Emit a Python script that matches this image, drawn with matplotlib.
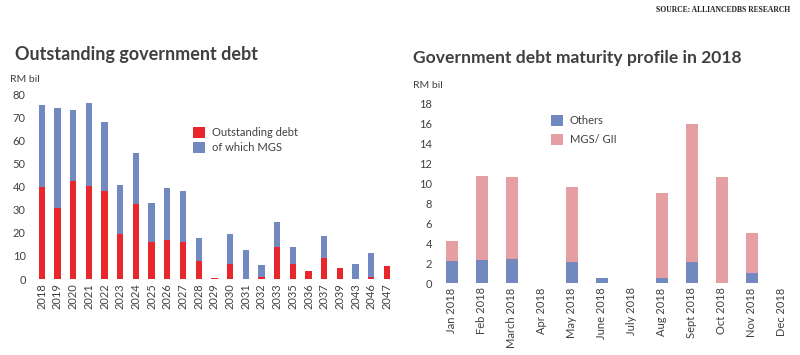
import numpy as np
import matplotlib.pyplot as plt

plt.rcParams['font.family'] = ['Lato', 'DejaVu Sans']

# left chart: outstanding government debt (RM bil)
years = ['2018', '2019', '2020', '2021', '2022', '2023', '2024', '2025', '2026',
         '2027', '2028', '2029', '2030', '2031', '2032', '2033', '2035', '2036',
         '2037', '2039', '2043', '2046', '2047']
debt_red = [40.0, 30.6, 42.6, 40.4, 38.2, 19.3, 32.6, 16.1, 16.9,
            16.1, 7.6, 0.3, 6.6, 0.0, 0.8, 14.0, 6.6, 3.6,
            8.9, 4.8, 0.0, 0.8, 5.8]
debt_blue = [35.3, 43.3, 30.7, 35.9, 29.6, 21.4, 21.9, 16.8, 22.6,
             22.0, 10.0, 0.0, 12.9, 12.4, 5.1, 10.7, 7.3, 0.0,
             9.7, 0.0, 6.3, 10.3, 0.0]

# right chart: maturity profile 2018 (RM bil)
months = ['Jan 2018', 'Feb 2018', 'March 2018', 'Apr 2018', 'May 2018', 'June 2018',
          'July 2018', 'Aug 2018', 'Sept 2018', 'Oct 2018', 'Nov 2018', 'Dec 2018']
others = [2.2, 2.3, 2.4, 0.0, 2.1, 0.5, 0.0, 0.5, 2.1, 0.0, 1.0, 0.0]
mgs_gii = [2.0, 8.4, 8.2, 0.0, 7.5, 0.0, 0.0, 8.5, 13.8, 10.6, 4.0, 0.0]

RED = '#e8262b'
BLUE = '#7189bf'
PINK = '#e59ea1'
TXT = '#404040'

fig = plt.figure(figsize=(8, 3.55), dpi=100)

# ---- left
ax1 = fig.add_axes([0.0375, 0.214, 0.46, 0.521])
x1 = np.arange(len(years))
ax1.bar(x1, debt_red, width=0.4, color=RED, label='Outstanding debt')
ax1.bar(x1, debt_blue, width=0.4, bottom=debt_red, color=BLUE, label='of which MGS')
ax1.set_xlim(-0.75, 22.7)
ax1.set_ylim(0, 80)
ax1.set_yticks(range(0, 81, 10))
ax1.set_xticks(x1)
ax1.set_xticklabels(years, rotation=90)
ax1.legend(loc='upper left', bbox_to_anchor=(0.415, 0.875), frameon=False,
           fontsize=8, handlelength=1.1, handleheight=1.1, labelcolor=TXT,
           labelspacing=0.35, handletextpad=0.6)

# ---- right
ax2 = fig.add_axes([0.545, 0.202, 0.451, 0.507])
x2 = np.arange(len(months))
ax2.bar(x2, others, width=0.4, color=BLUE, label='Others')
ax2.bar(x2, mgs_gii, width=0.4, bottom=others, color=PINK, label='MGS/ GII')
ax2.set_xlim(-0.52, 11.5)
ax2.set_ylim(0, 18)
ax2.set_yticks(range(0, 19, 2))
ax2.set_xticks(x2)
ax2.set_xticklabels(months, rotation=90)
ax2.legend(loc='upper left', bbox_to_anchor=(0.29, 0.99), frameon=False,
           fontsize=8, handlelength=1.1, handleheight=1.1, labelcolor=TXT,
           labelspacing=0.7, handletextpad=0.6)

for ax in (ax1, ax2):
    for s in ax.spines.values():
        s.set_visible(False)
    ax.tick_params(length=0, labelsize=8, labelcolor=TXT, pad=3)

fig.text(0.019, 0.83, 'Outstanding government debt', fontsize=13, fontweight='bold', color=TXT)
fig.text(0.516, 0.822, 'Government debt maturity profile in 2018', fontsize=12.6, fontweight='bold', color=TXT)
fig.text(0.013, 0.768, 'RM bil', fontsize=7.5, color=TXT)
fig.text(0.516, 0.752, 'RM bil', fontsize=7.5, color=TXT)
fig.text(0.988, 0.965, 'SOURCE: ALLIANCEDBS RESEARCH', fontsize=5.5, ha='right',
         family='Liberation Serif', fontweight='bold', color='#222222')

fig.savefig('out.png', dpi=100)
